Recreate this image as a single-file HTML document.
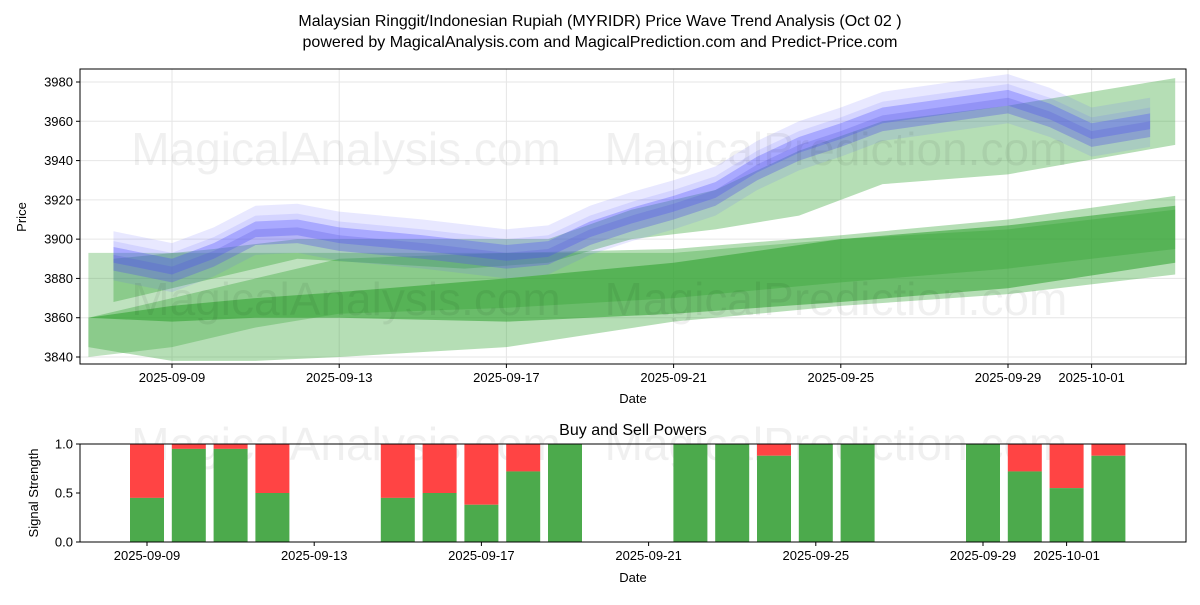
<!DOCTYPE html>
<html><head><meta charset="utf-8"><style>
body{margin:0;background:#fff;font-family:"Liberation Sans","DejaVu Sans",sans-serif}
</style></head><body>
<svg width="1200" height="600" xmlns="http://www.w3.org/2000/svg" font-family="Liberation Sans, DejaVu Sans, sans-serif">
<rect width="1200" height="600" fill="#fff"/>
<text x="600" y="26" text-anchor="middle" font-size="16">Malaysian Ringgit/Indonesian Rupiah (MYRIDR) Price Wave Trend Analysis (Oct 02 )</text>
<text x="600" y="47" text-anchor="middle" font-size="16">powered by MagicalAnalysis.com and MagicalPrediction.com and Predict-Price.com</text>
<g id="topg"></g>
<g id="botg"></g>
</svg>
<script>
// ---- data ----
const tickDates=["2025-09-09","2025-09-13","2025-09-17","2025-09-21","2025-09-25","2025-09-29","2025-10-01"];
const tickDays=[0,4,8,12,16,20,22];
const priceTicks=[3840,3860,3880,3900,3920,3940,3960,3980];
const blueDays=[-1.4,0,1,2,3,4,6,8,9,10,11,12,13,14,15,16,17,20,21,22,23.4];
const blueVals=[3892,3886,3894,3905,3906,3902,3898,3893,3895,3905,3912,3918,3925,3938,3948,3955,3963,3972,3965,3955,3960];
const gUpDays=[-1.4,1,3,7,9,11,13,15,17,20,24];
const gUpHi=[3890,3895,3900,3900,3900,3915,3925,3945,3960,3968,3982];
const gUpLo=[3868,3880,3890,3885,3888,3900,3905,3912,3928,3933,3948];
const gADays=[-2,0,2,4,8,12,16,20,24];
const gAHi=[3860,3870,3880,3890,3893,3895,3902,3910,3922];
const gALo=[3845,3838,3838,3840,3845,3858,3866,3872,3882];
const gBHi=[3860,3866,3870,3873,3880,3888,3900,3907,3917];
const gBLo=[3860,3858,3860,3860,3858,3862,3868,3875,3888];
const gCHi=[3893,3893,3893,3893,3893,3893,3900,3905,3915];
const gCLo=[3840,3845,3855,3862,3865,3870,3878,3885,3895];
const barDays=[0,1,2,3,6,7,8,9,10,13,14,15,16,17,20,21,22,23];
const buyVals=[0.45,0.95,0.95,0.5,0.45,0.5,0.38,0.72,1.0,1.0,1.0,0.88,1.0,1.0,1.0,0.72,0.55,0.88];
const sigTicks=[0,0.5,1.0];
// ---- axes ----
const L=80,R=1186,T1=69,B1=364,T2=444,B2=542;
const X=d=>172+d*41.8;
const Y=v=>82+(3980-v)*275/140;
const Y2=v=>B2-v*(B2-T2);
const NS="http://www.w3.org/2000/svg";
function mk(p,tag,a,txt){const e=document.createElementNS(NS,tag);for(const k in a)e.setAttribute(k,a[k]);if(txt!=null)e.textContent=txt;p.appendChild(e);return e;}
const topG=document.getElementById('topg'),botG=document.getElementById('botg');
const cp=mk(topG,'clipPath',{id:'c1'});mk(cp,'rect',{x:L,y:T1,width:R-L,height:B1-T1});
const plot=mk(topG,'g',{'clip-path':'url(#c1)'});
tickDays.forEach(d=>mk(plot,'line',{x1:X(d),x2:X(d),y1:T1,y2:B1,stroke:'#e6e6e6'}));
priceTicks.forEach(v=>mk(plot,'line',{x1:L,x2:R,y1:Y(v),y2:Y(v),stroke:'#e6e6e6'}));
function band(days,hi,lo,fill,op,dy){
  let pts=days.map((d,i)=>X(d)+','+Y(hi[i]+(dy||0)));
  pts=pts.concat(days.map((d,i)=>X(d)+','+Y(lo[i]+(dy||0))).reverse());
  const e=mk(plot,'polygon',{points:pts.join(' '),fill:fill,'fill-opacity':op});
  
  
}
band(gADays,gAHi,gALo,'#2ca02c',0.35);
band(gADays,gCHi,gCLo,'#2ca02c',0.3);
band(gADays,gBHi,gBLo,'#2ca02c',0.55);
band(gUpDays,gUpHi,gUpLo,'#2ca02c',0.35);
const bHi8=blueVals.map(v=>v+10),bLo8=blueVals.map(v=>v-10);
const bHi4=blueVals.map(v=>v+4),bLo4=blueVals.map(v=>v-4);
band(blueDays,bHi8,bLo8,'#6666ff',0.15,2);
band(blueDays,bHi8,bLo8,'#6666ff',0.15,-3);
band(blueDays,bHi4,bLo4,'#4444ff',0.3);
band(blueDays,bHi4,bLo4,'#5555dd',0.25,-4);
[[346,150],[836,150],[346,300],[836,300]].forEach((p,i)=>{const t=mk(topG,'text',{x:p[0],y:p[1]+15,'text-anchor':'middle','font-size':46,fill:'#000','fill-opacity':0.06},i%2?'MagicalPrediction.com':'MagicalAnalysis.com');});
mk(topG,'rect',{x:L,y:T1,width:R-L,height:B1-T1,fill:'none',stroke:'#000'});
tickDays.forEach((d,i)=>{mk(topG,'line',{x1:X(d),x2:X(d),y1:B1,y2:B1+4,stroke:'#000'});const t=mk(topG,'text',{x:X(d),y:B1+18,'text-anchor':'middle','font-size':13},tickDates[i]);});
priceTicks.forEach(v=>{mk(topG,'line',{x1:L-4,x2:L,y1:Y(v),y2:Y(v),stroke:'#000'});const t=mk(topG,'text',{x:L-7,y:Y(v)+4.5,'text-anchor':'end','font-size':13},v);});
mk(topG,'text',{x:633,y:403,'text-anchor':'middle','font-size':13},'Date');
mk(topG,'text',{x:26,y:217,'text-anchor':'middle','font-size':13,transform:'rotate(-90 26 217)'},'Price');
mk(botG,'text',{x:633,y:435,'text-anchor':'middle','font-size':16},'Buy and Sell Powers');
[[346,445],[836,445]].forEach((p,i)=>{const t=mk(botG,'text',{x:p[0],y:p[1]+15,'text-anchor':'middle','font-size':46,fill:'#000','fill-opacity':0.06},i?'MagicalPrediction.com':'MagicalAnalysis.com');});
barDays.forEach((d,i)=>{const cx=X(d)-25,w=34;
 const s=mk(botG,'rect',{x:cx-w/2,y:Y2(1),width:w,height:Y2(buyVals[i])-Y2(1),fill:'#ff4444'});
 
 
 const b=mk(botG,'rect',{x:cx-w/2,y:Y2(buyVals[i]),width:w,height:B2-Y2(buyVals[i]),fill:'#4caa4c'});
 
 });
mk(botG,'rect',{x:L,y:T2,width:R-L,height:B2-T2,fill:'none',stroke:'#000'});
tickDays.forEach((d,i)=>{mk(botG,'line',{x1:X(d)-25,x2:X(d)-25,y1:B2,y2:B2+4,stroke:'#000'});const t=mk(botG,'text',{x:X(d)-25,y:B2+18,'text-anchor':'middle','font-size':13},tickDates[i]);});
sigTicks.forEach(v=>{mk(botG,'line',{x1:L-4,x2:L,y1:Y2(v),y2:Y2(v),stroke:'#000'});const t=mk(botG,'text',{x:L-7,y:Y2(v)+4.5,'text-anchor':'end','font-size':13},v.toFixed(1));});
mk(botG,'text',{x:633,y:582,'text-anchor':'middle','font-size':13},'Date');
mk(botG,'text',{x:38,y:493,'text-anchor':'middle','font-size':13,transform:'rotate(-90 38 493)'},'Signal Strength');
</script>
</body></html>
